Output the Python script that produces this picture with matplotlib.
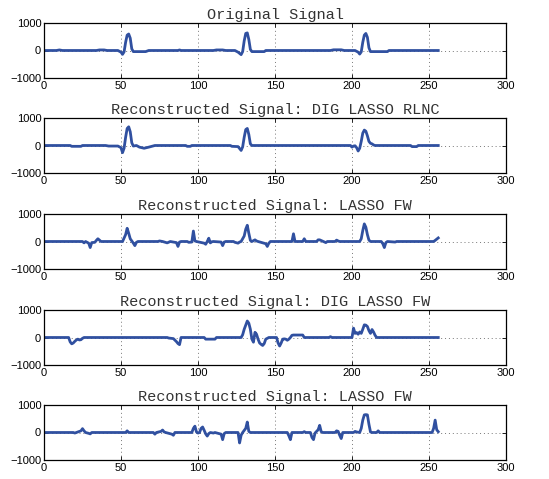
import matplotlib
matplotlib.use("Agg")
import matplotlib.pyplot as plt

titles = ["Original Signal",
          "Reconstructed Signal: DIG LASSO RLNC",
          "Reconstructed Signal: LASSO FW",
          "Reconstructed Signal: DIG LASSO FW",
          "Reconstructed Signal: LASSO FW"]

orig_x = [1, 8, 10, 12, 34, 36, 39, 41, 48, 50, 51, 52, 53, 54, 55, 56, 57, 58, 66, 68, 87, 88, 89,
          110, 112, 116, 118, 124, 126, 128, 129, 130, 131, 132, 133, 134, 135, 143, 144, 186, 188,
          193, 195, 202, 204, 205, 206, 207, 208, 209, 210, 211, 212, 223, 224, 256]
orig_y = [0, 0, 20, 0, 0, 20, 20, 0, 0, -60, -140, -50, 300, 560, 600, 450, 60, -40, -40, 0, 0, 20, 0,
          0, 20, 20, 0, 0, -60, -150, -40, 350, 620, 640, 400, 40, -40, -40, 0, 0, 25,
          25, 0, 0, -60, -130, -50, 300, 560, 620, 480, 100, -40, -40, 0, 0]

rlnc_x = [1, 17, 18, 24, 25, 40, 42, 48, 50, 51, 52, 53, 54, 55, 56, 57, 58, 60, 62, 65, 68, 72,
          92, 93, 95, 96, 121, 122, 126, 128, 129, 130, 131, 132, 133, 134, 135, 199, 200, 201, 202,
          203, 204, 205, 206, 207, 208, 209, 210, 211, 212, 213, 214, 215, 238, 239, 242, 243, 256]
rlnc_y = [0, 0, -30, -30, 0, 0, -20, -20, -80, -260, -100, 300, 620, 680, 500, 100, -20, 0, -60, -100, -60, 0,
          0, -30, -30, 0, 0, -30, -40, -180, -50, 300, 580, 620, 400, 60, 0, 0, -60, -20, -10,
          -80, -200, -100, 150, 450, 560, 520, 350, 150, 80, 60, 20, 0, 0, -40, -40, 0, 0]

fw1_x = [1, 25, 26, 27, 29, 30, 31, 33, 34, 35, 36, 37, 51, 53, 54, 55, 56, 57, 58, 59, 60, 61,
         74, 75, 77, 80, 82, 86, 87, 88, 89, 93, 94, 96, 97, 98, 99, 104, 105, 106, 107, 108, 109, 110,
         115, 116, 117, 118, 123, 124, 126, 127, 128, 130, 131, 132, 133, 134, 135, 136, 137, 138, 139,
         144, 145, 146, 147, 161, 162, 163, 168, 169, 170, 177, 178, 179, 181, 183, 184, 189, 190, 191,
         192, 205, 206, 207, 208, 209, 210, 211, 212, 219, 220, 221, 222, 223, 228, 229, 253, 254, 256]
fw1_y = [0, 0, -50, 0, -60, -220, -40, -30, 40, 100, 50, 0, 0, 250, 480, 300, 100, 20, -60, -150, -30, 0,
         0, 20, 0, -50, 0, -40, -180, -20, 0, 0, -30, -20, 380, 20, 0, -60, -100, 0, 120, -50, -10, 0,
         -20, -150, -20, 0, 0, -30, -60, -20, 0, 200, 450, 590, 300, 40, 0, 30, 60, 20, 0,
         -80, -180, -60, 0, 0, 280, 0, 0, 100, 0, 0, 60, 60, 10, -40, 0, 0, 50, 20,
         0, 0, 100, 400, 640, 520, 250, 50, 0, 0, -80, -220, -40, 0, -20, 0, 0, 40, 130]

dig_x = [1, 16, 17, 18, 19, 20, 21, 22, 23, 24, 25, 26, 80, 81, 84, 86, 87, 88, 89, 104, 105, 111, 112,
         128, 129, 130, 131, 132, 133, 134, 135, 136, 137, 138, 139, 140, 141, 142, 143, 144, 146,
         151, 152, 153, 154, 155, 156, 157, 158, 159, 160, 161, 162, 168, 169, 185, 186, 187,
         200, 201, 202, 203, 204, 205, 206, 207, 208, 209, 210, 211, 212, 213, 214, 215, 216, 256]
dig_y = [0, 0, -160, -230, -200, -140, -90, -60, -90, -80, -30, 0, 0, -20, -40, -150, -220, -260, 0, 0, -60, -60, 0,
         0, 100, 300, 450, 600, 520, 300, -60, -170, 190, 120, -60, -200, -250, -290, -220, -60, 0,
         0, -200, -310, -200, -60, -50, -60, -100, -60, 0, 80, 90, 90, 0, 0, 30, 0,
         0, 340, 150, 180, 120, 200, 150, 300, 460, 450, 400, 250, 150, 290, 200, 80, 0, 0]

fw2_x = [1, 19, 20, 21, 24, 25, 26, 27, 29, 30, 31, 53, 54, 55, 71, 72, 73, 76, 77, 78, 79, 83, 84, 85,
         96, 97, 98, 99, 100, 101, 102, 103, 104, 105, 106, 107, 108, 110, 111, 115, 116, 117, 118,
         126, 127, 128, 129, 131, 132, 133, 134, 158, 159, 160, 161, 168, 169, 170, 173, 174, 175, 176,
         178, 179, 180, 181, 189, 190, 191, 192, 193, 194, 201, 202, 203, 205, 206, 207, 208, 209, 210,
         211, 212, 213, 216, 217, 218, 252, 253, 254, 255, 256]
fw2_y = [0, 0, -20, 0, 60, 140, 60, 0, -30, -50, 0, 0, 60, 0, 0, -60, 0, 40, 90, 20, 0, -60, -100, 0,
         0, 150, 230, 20, -20, 0, 150, 200, 80, -50, -130, -40, 0, -20, 0, -60, -260, -40, 0,
         0, -380, -100, 0, 150, 380, 40, 0, 0, -120, -260, 0, 0, 30, 0, 0, -180, -260, -20,
         100, 260, 30, 0, 0, 60, 40, -100, -220, 0, 0, 40, 20, 0, 150, 450, 640, 650, 640,
         300, 20, 0, 0, 60, 0, 0, 150, 450, 100, 30]

series = [(orig_x, orig_y), (rlnc_x, rlnc_y), (fw1_x, fw1_y), (dig_x, dig_y), (fw2_x, fw2_y)]

xticks = [0, 50, 100, 150, 200, 250, 300]
yticks = [-1000, 0, 1000]

W, H = 549, 479
fig = plt.figure(figsize=(W / 100, H / 100), dpi=100)
tops = [23, 118, 214, 310, 405]
ax_h = 55
left_px, right_px = 44, 506

for i, (title, (xs, ys)) in enumerate(zip(titles, series)):
    top = tops[i]
    ax = fig.add_axes([left_px / W, 1 - (top + ax_h) / H, (right_px - left_px) / W, ax_h / H])
    ax.plot(xs, ys, color="#3050A0", linewidth=2.0)
    ax.set_xlim(0, 300)
    ax.set_ylim(-1000, 1000)
    ax.set_xticks(xticks)
    ax.set_yticks(yticks)
    ax.grid(True, linestyle=(0, (1, 3)), color="#777777", linewidth=0.7)
    ax.tick_params(direction="in", length=3, width=0.6, top=True, right=True,
                   labelsize=8, pad=2)
    for lab in ax.get_xticklabels() + ax.get_yticklabels():
        lab.set_fontfamily("Liberation Sans")
    for sp in ax.spines.values():
        sp.set_linewidth(0.9)
    ax.set_title(title, fontfamily="Liberation Mono", fontsize=11, pad=3, color="#333333")

fig.savefig("out.png", dpi=100)
